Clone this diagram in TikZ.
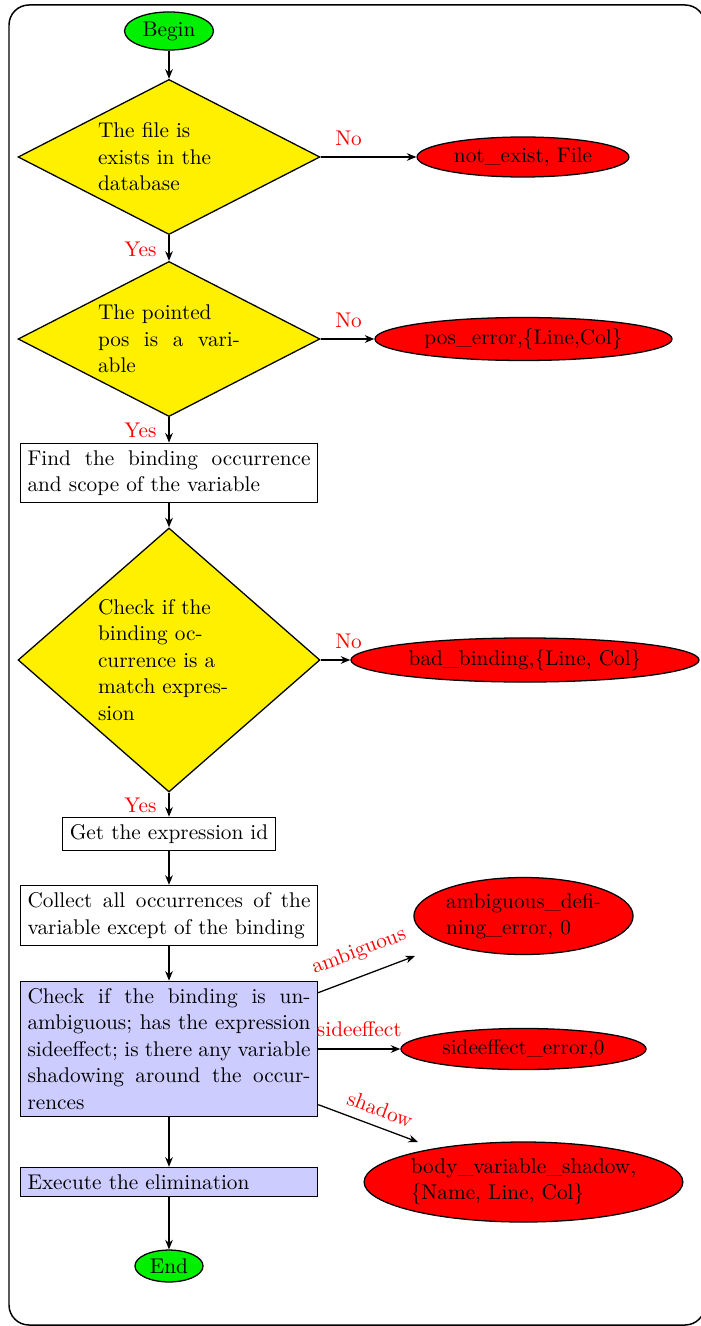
\documentclass[tikz,border=0pt]{standalone}
\usetikzlibrary{shapes.geometric,arrows.meta}
\definecolor{dyellow}{RGB}{255,240,0}
\definecolor{lblue}{RGB}{204,204,255}
\definecolor{dgreen}{RGB}{0,240,0}
\begin{document}
\begin{tikzpicture}[x=0.47pt,y=-0.47pt,
  font=\fontsize{10}{12.45}\selectfont,
  base/.style={draw=black, line width=0.6pt},
  decision/.style={base, diamond, fill=dyellow, inner sep=0pt, text width=66.7pt,
    align=justify, minimum width=141.9pt, minimum height=72.9pt, aspect=2},
  process/.style={base, rectangle, fill=white, inner sep=3.33pt, text width=133pt, align=justify},
  terminal/.style={base, ellipse, fill=dgreen, inner sep=0pt},
  outcome/.style={base, ellipse, fill=red, inner sep=0pt, align=center},
  flow/.style={line width=0.6pt, -{Stealth[length=4.5pt,width=3.6pt]}},
  lab/.style={text=red, inner sep=0pt},
  nolab/.style={lab, pos=0, anchor=base west, xshift=6.6pt, yshift=5.6pt},
  yeslab/.style={lab, midway, anchor=base east, xshift=-5.6pt, yshift=-3.8pt}
]
\useasboundingbox (0,0) rectangle (700,1326);

% outer frame
\draw[line width=0.7pt, rounded corners=9.4pt] (9,5) rectangle (705,1325);

% main column
\node[terminal, minimum width=41.8pt, minimum height=17.9pt] (begin) at (169,31) {Begin};
\node[decision] (d1) at (169,157) {The file is\newline exists in the\newline database};
\node[decision] (d2) at (169,339) {The pointed\newline pos is a vari-\linebreak able};
\node[process] (find) at (169,473) {Find the binding occurrence\linebreak and scope of the variable};
\node[decision, aspect=1.14, minimum height=124.1pt] (d3) at (169,660)
  {Check if the\newline binding oc-\newline currence is a\newline match expres-\newline sion};
\node[process, text width=, align=center] (getid) at (169,834) {Get the expression id};
\node[process] (collect) at (169,915.5) {Collect all occurrences of the\linebreak variable except of the binding};
\node[process, fill=lblue] (chk) at (169,1049)
  {Check if the binding is un-\linebreak ambiguous; has the expression\linebreak sideeffect; is there any variable\linebreak shadowing around the occur-\linebreak rences};
\node[process, fill=lblue, align=left] (exec) at (169,1182) {Execute the elimination};
\node[terminal, minimum width=32pt, minimum height=15pt] (end) at (169,1266) {End};

% error outcomes
\node[outcome, minimum width=99.6pt, minimum height=18.8pt] (notex) at (523,157) {not\_exist, File};
\node[outcome, minimum width=139.6pt, minimum height=20.2pt] (poserr) at (523.5,339) {pos\_error,\{Line,Col\}};
\node[outcome, minimum width=163.6pt, minimum height=20.7pt] (badb) at (525,660) {bad\_binding,\{Line, Col\}};
\node[outcome, align=left, minimum width=101pt, minimum height=36.2pt] (amb) at (523.5,916)
  {ambiguous\_defi-\\ ning\_error, 0};
\node[outcome, minimum width=115.2pt, minimum height=19.3pt] (side) at (523.5,1049) {sideeffect\_error,0};
\node[outcome, align=left, minimum width=148pt, minimum height=37.6pt] (shad) at (523.5,1182)
  {body\_variable\_shadow,\\ \{Name, Line, Col\}};

\coordinate (ambend) at (415,956);
\coordinate (shadend) at (418,1142);

% connectors
\draw[flow] (begin) -- (d1);
\draw[flow] (d1) -- node[yeslab] {Yes} (d2);
\draw[flow] (d2) -- node[yeslab] {Yes} (find);
\draw[flow] (find) -- (d3);
\draw[flow] (d3) -- node[yeslab] {Yes} (getid);
\draw[flow] (getid) -- (collect);
\draw[flow] (collect) -- (chk);
\draw[flow] (chk) -- (exec);
\draw[flow] (exec) -- (end);

\draw[flow] (d1.east) -- node[nolab] {No} (notex);
\draw[flow] (d2.east) -- node[nolab] {No} (poserr);
\draw[flow] (d3.east) -- node[nolab] {No} (badb);

\draw[flow] (chk) -- node[lab, pos=0.51, sloped, above=6.5pt] {ambiguous} (ambend);
\draw[flow] (chk.east) -- node[lab, midway, above=5.6pt] {sideeffect} (side);
\draw[flow] (chk) -- node[lab, pos=0.56, sloped, above=4.4pt] {shadow} (shadend);
\end{tikzpicture}
\end{document}
